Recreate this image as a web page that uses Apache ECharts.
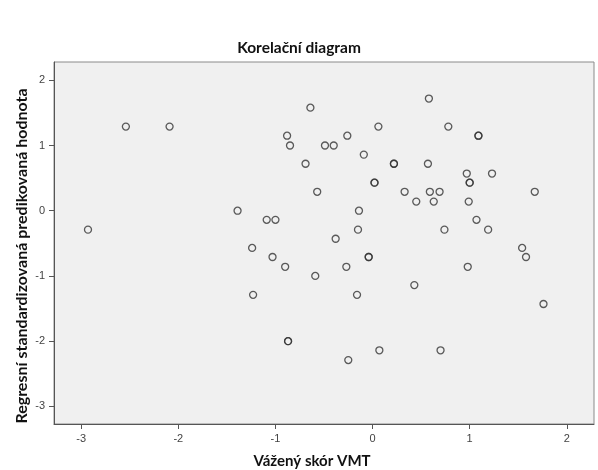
<!DOCTYPE html>
<html>
<head>
<meta charset="utf-8">
<script src="https://cdn.jsdelivr.net/npm/echarts@6/dist/echarts.min.js"></script>
<style>
  html, body { margin: 0; padding: 0; background: #fff; }
  #chart { width: 598px; height: 470px; }
</style>
</head>
<body>
<div id="chart"></div>
<script>
// Vážený skór VMT (x) vs. regresní standardizovaná predikovaná hodnota (y)
// repeated pairs = overlapping points (drawn darker in the original)
const xValues = [
  -2.93, -2.54, -2.09, -1.39, -1.09, -1.00, -1.24, -1.03, -0.90, -1.23,
  -0.87, -0.87, -0.64, -0.88, -0.85, -0.49, -0.40, -0.69, -0.57, -0.59,
  -0.38, -0.26, -0.09, 0.06, -0.14, -0.15, -0.04, -0.04, -0.27, -0.16,
  -0.25, 0.07, 0.02, 0.02, 0.22, 0.22, 0.33, 0.45, 0.43, 0.58,
  0.57, 0.59, 0.63, 0.69, 0.74, 0.70, 0.78, 0.97, 1.00, 1.00,
  0.99, 0.98, 1.07, 1.09, 1.09, 1.19, 1.23, 1.54, 1.58, 1.67,
  1.76
];
const yValues = [
  -0.29, 1.29, 1.29, 0.00, -0.14, -0.14, -0.57, -0.71, -0.86, -1.29,
  -2.00, -2.00, 1.58, 1.15, 1.00, 1.00, 1.00, 0.72, 0.29, -1.00,
  -0.43, 1.15, 0.86, 1.29, 0.00, -0.29, -0.71, -0.71, -0.86, -1.29,
  -2.29, -2.14, 0.43, 0.43, 0.72, 0.72, 0.29, 0.14, -1.14, 1.72,
  0.72, 0.29, 0.14, 0.29, -0.29, -2.14, 1.29, 0.57, 0.43, 0.43,
  0.14, -0.86, -0.14, 1.15, 1.15, -0.29, 0.57, -0.57, -0.71, 0.29,
  -1.43
];
const xTicks = [-3, -2, -1, 0, 1, 2];
const yTicks = [-3, -2, -1, 0, 1, 2];

const chartTitle = 'Korelační diagram';
const xName = 'Vážený skór VMT';
const yName = 'Regresní standardizovaná predikovaná hodnota';

const points = xValues.map((x, i) => [x, yValues[i]]);

const chart = echarts.init(document.getElementById('chart'), null, { renderer: 'canvas' });

const labelStyle = { color: '#444', fontSize: 11, fontFamily: 'Liberation Sans' };
const nameFont = { fontFamily: 'Lato', fontWeight: 'bold', fill: '#111' };

chart.setOption({
  animation: false,
  backgroundColor: '#fff',
  title: {
    text: chartTitle,
    left: 'center',
    top: 35,
    textStyle: { fontFamily: 'Lato', fontWeight: 'bold', fontSize: 15.5, color: '#111' }
  },
  grid: {
    left: 54, right: 4, top: 62, bottom: 46,
    show: true,
    backgroundColor: '#f0f0f0',
    borderColor: '#8a8a8a',
    borderWidth: 1
  },
  xAxis: {
    type: 'value',
    min: -3.28,
    max: 2.28,
    splitLine: { show: false },
    axisLine: { show: true, onZero: false, lineStyle: { color: '#555' } },
    axisTick: { show: true, length: 5, customValues: xTicks, lineStyle: { color: '#555' } },
    axisLabel: { margin: 9, customValues: xTicks, ...labelStyle }
  },
  yAxis: {
    type: 'value',
    min: -3.27,
    max: 2.28,
    splitLine: { show: false },
    axisLine: { show: true, onZero: false, lineStyle: { color: '#555' } },
    axisTick: { show: true, length: 5, customValues: yTicks, lineStyle: { color: '#555' } },
    axisLabel: { margin: 9, customValues: yTicks, ...labelStyle }
  },
  graphic: [
    {
      type: 'text',
      x: 312, y: 461,
      style: { text: xName, ...nameFont, fontSize: 15, align: 'center', verticalAlign: 'middle' }
    },
    {
      type: 'text',
      x: 22, y: 256,
      rotation: Math.PI / 2,
      style: { text: yName, ...nameFont, fontSize: 16, align: 'center', verticalAlign: 'middle' }
    }
  ],
  series: [{
    type: 'scatter',
    data: points,
    symbol: 'circle',
    symbolSize: 7,
    itemStyle: { color: 'rgba(0,0,0,0)', borderColor: '#333', borderWidth: 1.3 },
    emphasis: { disabled: true }
  }]
});
</script>
</body>
</html>
